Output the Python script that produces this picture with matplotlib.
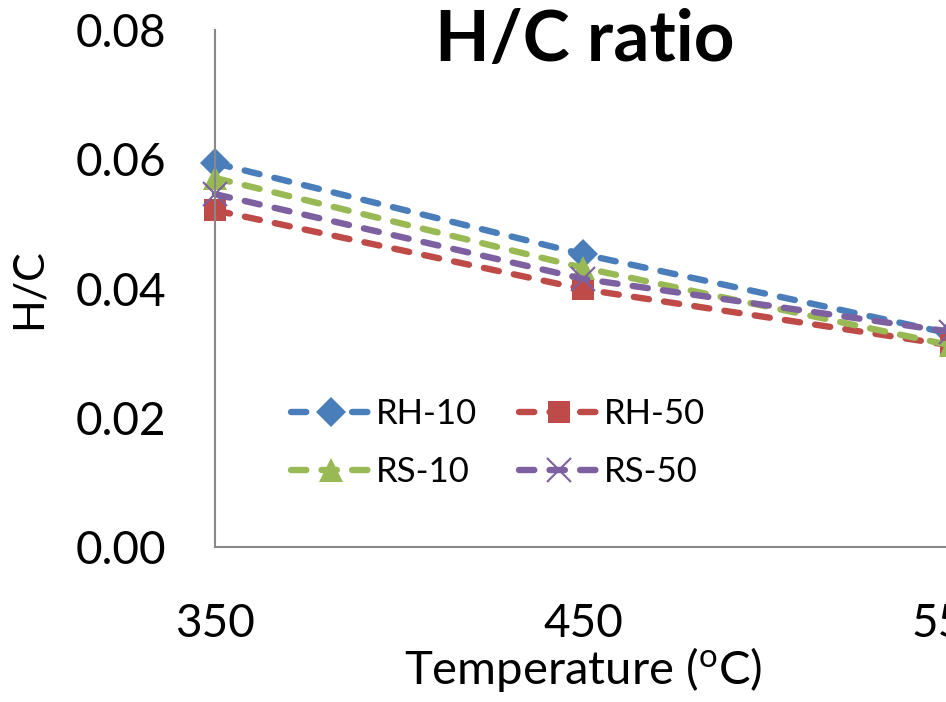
import matplotlib
matplotlib.use("Agg")
import matplotlib.pyplot as plt

plt.rcParams['font.family'] = ['Lato', 'DejaVu Sans']
plt.rcParams['mathtext.fontset'] = 'custom'
plt.rcParams['mathtext.rm'] = 'Lato'

temperatures = [350, 450, 550]
rh10 = [0.0594, 0.0453, 0.0330]
rh50 = [0.0521, 0.0399, 0.0312]
rs10 = [0.0571, 0.0432, 0.0312]
rs50 = [0.0546, 0.0415, 0.0333]
series_names = ['RH-10', 'RH-50', 'RS-10', 'RS-50']
yticks = [0.00, 0.02, 0.04, 0.06, 0.08]

colors = ['#4A7EBB', '#BE4B48', '#98B954', '#7D60A0']
markers = ['D', 's', '^', 'x']
msizes = [15, 16, 17, 17]

fig = plt.figure(figsize=(9.46, 7.02), dpi=100)
ax = fig.add_axes([215/946, 1-547/702, 736/946, (547-30)/702])

lw = 4.6
on, off = 11.0, 11.0
handles = []
for vals, name, c, m, ms in zip([rh10, rh50, rs10, rs50], series_names, colors, markers, msizes):
    h, = ax.plot(temperatures, vals, color=c, lw=lw, linestyle=(0, (on/lw, off/lw)),
                 dash_capstyle='round', marker=m, markersize=ms,
                 markeredgewidth=1.5 if m == 'x' else 0, markerfacecolor=c, markeredgecolor=c,
                 label=name, clip_on=False)
    handles.append(h)

ax.set_xlim(350, 550)
ax.set_ylim(0, 0.08)
ax.set_xticks(temperatures)
ax.set_xticklabels([str(t) for t in temperatures])
ax.set_yticks(yticks)
ax.set_yticklabels([f'{v:.2f}' for v in yticks])
ax.tick_params(axis='both', length=0, labelsize=33)
ax.tick_params(axis='x', pad=40)
ax.tick_params(axis='y', pad=35)
for s in ['top', 'right']:
    ax.spines[s].set_visible(False)
for s in ['left', 'bottom']:
    ax.spines[s].set_color('#888888')
    ax.spines[s].set_linewidth(1.5)

ax.set_xlabel('Temperature ($\\mathregular{^{o}}$C)', fontsize=34, labelpad=0)
ax.set_ylabel('H/C', fontsize=31, labelpad=20)
fig.text(585/946, 1-40/702, 'H/C ratio', fontsize=51, fontweight='bold',
         ha='center', va='center')

order = [0, 2, 1, 3]
leg = ax.legend([handles[i] for i in order], [series_names[i] for i in order],
                loc='upper left', bbox_to_anchor=(291/946, 1-398/702),
                bbox_transform=fig.transFigure, ncol=2, frameon=False,
                fontsize=25, handlelength=2.3, handletextpad=0.15,
                columnspacing=1.2, labelspacing=0.75, borderaxespad=0, borderpad=0,
                numpoints=1)

fig.savefig('out.png', dpi=100)
